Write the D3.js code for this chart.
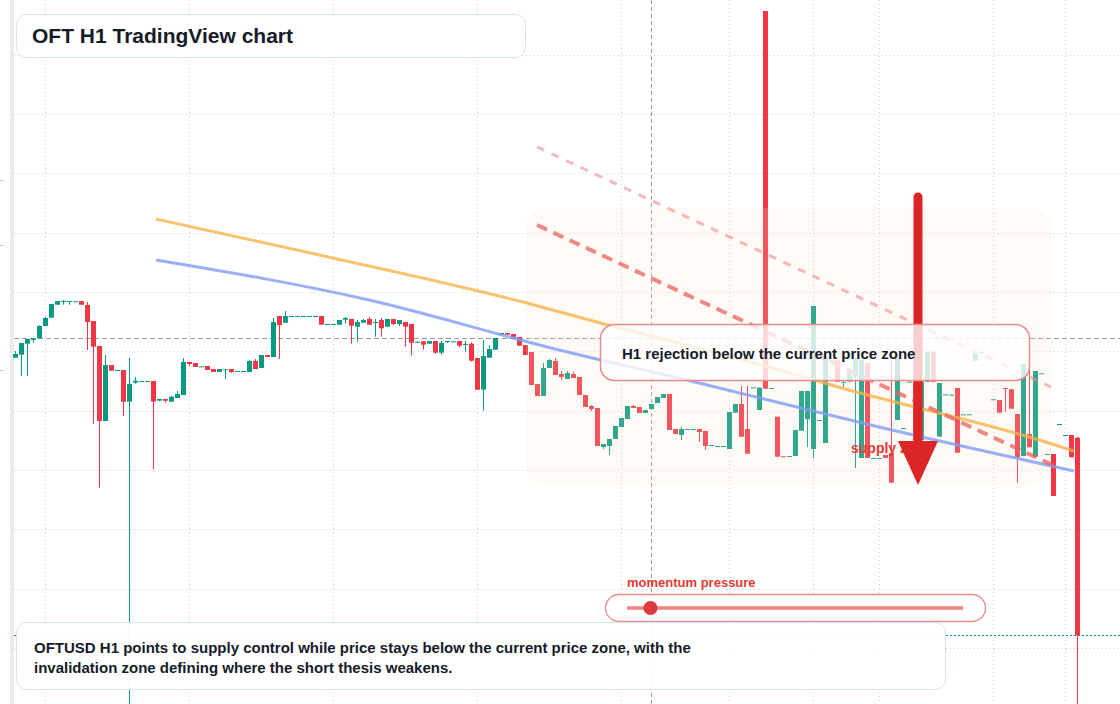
<html>
<head>
<script src="https://d3js.org/d3.v7.min.js"></script>
<style>
  body { margin: 0; background: #fff; }
  text { font-family: "Liberation Sans", Arial, sans-serif; }
</style>
</head>
<body>
<script>
// OFTUSD H1 candles: [open, high, low, close]
var ohlc = [
  [0.006423,0.00649,0.006423,0.00646],[0.006453,0.00657,0.00624,0.00657],[0.006563,0.00661,0.00624,0.00661],
  [0.0066,0.006617,0.006573,0.006617],[0.006617,0.006747,0.006617,0.00674],[0.00674,0.00683,0.00674,0.00682],
  [0.006823,0.00696,0.006823,0.00696],[0.006953,0.00699,0.006953,0.00699],[0.00698,0.007,0.006953,0.00699],
  [0.00698,0.00699,0.006953,0.00699],[0.006985,0.006987,0.006985,0.006987],[0.00699,0.00699,0.006953,0.006953],
  [0.00695,0.00698,0.0065,0.00678],[0.00679,0.00679,0.00576,0.006533],[0.00654,0.00654,0.005123,0.00579],
  [0.00579,0.00645,0.00579,0.00635],[0.00635,0.00635,0.006293,0.006293],[0.006295,0.0063,0.006295,0.0063],
  [0.0063,0.0063,0.00584,0.005983],[0.005983,0.006423,0.0028,0.00616],[0.006173,0.00623,0.006163,0.006193],
  [0.006187,0.00619,0.006187,0.00619],[0.006187,0.00619,0.006187,0.00619],[0.00619,0.00619,0.00531,0.005983],
  [0.005993,0.00601,0.005993,0.00601],[0.00601,0.00601,0.005973,0.005993],[0.005983,0.006043,0.005983,0.006033],
  [0.00602,0.00609,0.00602,0.00606],[0.00605,0.00642,0.00605,0.00638],[0.00638,0.00638,0.00634,0.00636],
  [0.00637,0.00637,0.00633,0.00633],[0.006333,0.006337,0.006333,0.006337],[0.00634,0.00634,0.0063,0.0063],
  [0.00631,0.00631,0.00628,0.00628],[0.00628,0.00631,0.00628,0.00631],[0.006303,0.006307,0.00621,0.006307],
  [0.00631,0.00631,0.00627,0.00628],[0.006287,0.00629,0.006287,0.00629],[0.006287,0.00629,0.006287,0.00629],
  [0.00628,0.0064,0.00628,0.00639],[0.00639,0.00641,0.00631,0.00631],[0.00632,0.00645,0.00632,0.00645],
  [0.00645,0.00645,0.00643,0.00643],[0.00643,0.00682,0.00643,0.00678],[0.00684,0.00684,0.00641,0.00675],
  [0.006773,0.00689,0.006773,0.00684],[0.006837,0.00684,0.006837,0.00684],[0.006837,0.00684,0.006837,0.00684],
  [0.006837,0.00684,0.006837,0.00684],[0.006837,0.00684,0.006837,0.00684],[0.006837,0.00684,0.006837,0.00684],
  [0.00684,0.00684,0.006753,0.006753],[0.006757,0.00676,0.006757,0.00676],[0.006757,0.00676,0.006757,0.00676],
  [0.006753,0.0068,0.006753,0.0068],[0.006803,0.00683,0.006763,0.00682],[0.00681,0.00681,0.006563,0.006743],
  [0.006733,0.0068,0.006583,0.00678],[0.006773,0.00681,0.006773,0.0068],[0.00681,0.00683,0.006753,0.006753],
  [0.006777,0.00681,0.006633,0.00678],[0.0068,0.00682,0.006633,0.006717],[0.006733,0.00681,0.006733,0.00681],
  [0.00681,0.00681,0.00675,0.00676],[0.00676,0.0068,0.00674,0.0068],[0.00678,0.00678,0.006533,0.006733],
  [0.00676,0.00676,0.006443,0.006573],[0.006573,0.006583,0.006573,0.006583],[0.006587,0.006587,0.006503,0.006553],
  [0.006563,0.00659,0.006563,0.00659],[0.00659,0.00659,0.006463,0.006473],[0.006473,0.00659,0.006453,0.00657],
  [0.00658,0.00659,0.00657,0.00659],[0.006585,0.006587,0.006585,0.006587],[0.00659,0.00659,0.006527,0.006543],
  [0.006557,0.00659,0.006483,0.00656],[0.006563,0.006577,0.006383,0.006393],[0.00642,0.00642,0.006103,0.006103],
  [0.006103,0.0066,0.005893,0.00644],[0.006423,0.00655,0.006423,0.00651],[0.006503,0.00662,0.006503,0.00662],
  [0.006653,0.00667,0.006653,0.00667],[0.00667,0.00667,0.006653,0.006653],[0.00666,0.00666,0.006623,0.006623],
  [0.00663,0.00663,0.006543,0.006543],[0.00655,0.00655,0.00645,0.00645],[0.00648,0.00648,0.00615,0.00615],
  [0.00616,0.00616,0.00604,0.00604],[0.00604,0.00637,0.00604,0.00632],[0.00632,0.00641,0.00632,0.0064],
  [0.00639,0.00642,0.00625,0.00625],[0.00626,0.00629,0.0062,0.00623],[0.00621,0.00629,0.00621,0.00627],
  [0.00626,0.00628,0.00622,0.00622],[0.00623,0.00623,0.00605,0.00605],[0.00605,0.00605,0.00593,0.00593],
  [0.00594,0.00595,0.00589,0.00591],[0.00592,0.00592,0.00554,0.00554],[0.00553,0.00556,0.00551,0.00556],
  [0.00554,0.00561,0.00545,0.00561],[0.00561,0.00574,0.00561,0.00574],[0.00573,0.00582,0.00573,0.00582],
  [0.00581,0.00594,0.00581,0.00594],[0.00594,0.00595,0.00592,0.00592],[0.00593,0.00593,0.00587,0.00587],
  [0.00587,0.0059,0.00587,0.0059],[0.00591,0.00596,0.00591,0.00596],[0.00597,0.00603,0.00597,0.00603],
  [0.00602,0.00606,0.00602,0.00606],[0.00606,0.00606,0.0057,0.0057],[0.00571,0.00571,0.00566,0.00566],
  [0.00565,0.00573,0.0056,0.00571],[0.005707,0.00571,0.005707,0.00571],[0.005707,0.00571,0.005707,0.00571],
  [0.00571,0.00571,0.00558,0.00568],[0.00569,0.00569,0.0055,0.00554],[0.005547,0.00555,0.005547,0.00555],
  [0.005537,0.00554,0.005537,0.00554],[0.005537,0.00554,0.005537,0.00554],[0.00551,0.00588,0.00551,0.00588],
  [0.005873,0.00596,0.005873,0.00596],[0.00596,0.00614,0.005633,0.005633],[0.00571,0.00614,0.005463,0.005463],
  [0.006123,0.006127,0.006123,0.006127],[0.0059,0.006123,0.0059,0.006123],[0.00989,0.00989,0.006113,0.006113],
  [0.006117,0.00612,0.006117,0.00612],[0.005833,0.005833,0.005433,0.005433],[0.005437,0.005437,0.005433,0.005433],
  [0.005437,0.00544,0.005437,0.00544],[0.00544,0.0057,0.00544,0.0057],[0.005693,0.00609,0.005693,0.00609],
  [0.005807,0.00609,0.00553,0.00609],[0.00551,0.00694,0.00542,0.00694],[0.005797,0.0058,0.005797,0.0058],
  [0.00557,0.00642,0.00557,0.00642],[0.006397,0.0064,0.006397,0.0064],[0.0064,0.0064,0.006183,0.006183],
  [0.00618,0.006183,0.00613,0.006183],[0.006183,0.0063,0.006183,0.0063],[0.006233,0.00642,0.00532,0.00642],
  [0.00542,0.0064,0.00542,0.0064],[0.00637,0.00637,0.00542,0.00542],[0.005417,0.00542,0.005417,0.00542],
  [0.005417,0.00542,0.005417,0.00542],[0.00545,0.00545,0.00542,0.00542],[0.00547,0.0064,0.005173,0.005173],
  [0.0058,0.00642,0.0058,0.00642],[0.005717,0.00572,0.005717,0.00572],[0.00618,0.006183,0.00618,0.006183],
  [0.00618,0.00618,0.0056,0.0056],[0.0056,0.006183,0.0056,0.006183],[0.006183,0.006483,0.006183,0.006483],
  [0.006483,0.006483,0.006183,0.006183],[0.005633,0.00617,0.005633,0.00617],[0.006055,0.006057,0.006055,0.006057],
  [0.00605,0.006053,0.00605,0.006053],[0.00612,0.00612,0.005473,0.005473],[0.005855,0.005857,0.005855,0.005857],
  [0.005855,0.005857,0.005855,0.005857],[0.006393,0.00647,0.006393,0.00647],[0.006475,0.006477,0.006475,0.006477],
  [0.006438,0.00644,0.006438,0.00644],[0.006005,0.006007,0.006005,0.006007],[0.006,0.006,0.005873,0.005873],
  [0.00612,0.00612,0.00588,0.00611],[0.006107,0.006107,0.005913,0.005913],[0.00586,0.00586,0.005173,0.005427],
  [0.00544,0.00636,0.00544,0.00636],[0.00566,0.006333,0.005527,0.005527],[0.005433,0.00629,0.005433,0.00629],
  [0.006265,0.006267,0.006265,0.006267],[0.005458,0.00546,0.005458,0.00546],[0.00546,0.00546,0.00504,0.00504],
  [0.005758,0.00576,0.005758,0.00576],[0.005648,0.00565,0.005648,0.00565],[0.00565,0.00565,0.005427,0.005427],
  [0.005623,0.005633,0.0028,0.003647]
];

// moving averages, read at a few bars: [bar, price]
var maFast = [[23.5,0.00781],[50,0.00746],[84,0.00699],[97,0.00678],[125,0.00634],[139,0.0061],[169,0.00563],[176.5,0.00549]];
var maSlow = [[23.5,0.0074],[59,0.007],[90,0.00651],[114,0.00617],[144,0.00573],[176.5,0.00529]];

// drawn trendlines [bar, price]
var trendOuter = [[87,0.00853],[172.67,0.00613]];
var trendInner = [[87,0.00775],[174,0.00532]];

var priceGrid = [0.009452,0.008859,0.008266,0.007673,0.00708,0.006487,0.005894,0.005301,0.004708,0.004115,0.003522];
var timeGrid = [5,29,53,77,101,119,133,144,163,175];
var axisMarks = [0.0082,0.00755,0.0063];

var supplyZone = {from: 85.17, to: 172.67, top: 0.00792, bottom: 0.00515};
var crosshair = {bar: 106, price: 0.00662};
var arrow = {bar: 150.5, from: 0.00803, head: 0.00559, tip: 0.00515};
var momentum = 0.07;

var titleText = "OFT H1 TradingView chart";
var calloutText = "H1 rejection below the current price zone";
var zoneLabel = "supply zone";
var momentumLabel = "momentum pressure";
var noteLines = ["OFTUSD H1 points to supply control while price stays below the current price zone, with the",
                 "invalidation zone defining where the short thesis weakens."];

var width = 1120, height = 704;
var up = "#089981", down = "#f23645";

var svg = d3.select("body").append("svg")
    .attr("width", width)
    .attr("height", height);

var x = d3.scaleLinear().domain([0, 177]).range([15, 1077]);
var y = d3.scaleLinear().domain([0.00296, 0.01]).range([height, 0]);

svg.append("rect").attr("width", width).attr("height", height).attr("fill", "#fff");

// left edge strip and axis marks
svg.append("rect").attr("x", 10).attr("y", 0).attr("width", 4).attr("height", height).attr("fill", "#ebebeb");
svg.selectAll(".amark").data(axisMarks).join("line")
    .attr("x1", 0).attr("x2", 4)
    .attr("y1", function(d){ return Math.round(y(d)) + 0.5; })
    .attr("y2", function(d){ return Math.round(y(d)) + 0.5; })
    .attr("stroke", "#c8c8c8");

// grid
var grid = svg.append("g").attr("stroke", "#cfcfcf").attr("stroke-dasharray", "1,3");
grid.selectAll(".h").data(priceGrid).join("line")
    .attr("x1", 14).attr("x2", width)
    .attr("y1", function(d){ return Math.round(y(d)) + 0.5; })
    .attr("y2", function(d){ return Math.round(y(d)) + 0.5; });
grid.selectAll(".v").data(timeGrid).join("line")
    .attr("x1", function(d){ return Math.round(x(d)) + 0.5; })
    .attr("x2", function(d){ return Math.round(x(d)) + 0.5; })
    .attr("y1", 0).attr("y2", height);

// crosshair
svg.append("line")
    .attr("x1", 14).attr("x2", width)
    .attr("y1", Math.round(y(crosshair.price)) + 0.5).attr("y2", Math.round(y(crosshair.price)) + 0.5)
    .attr("stroke", "#9a9a9a").attr("stroke-dasharray", "5,3");
svg.append("line")
    .attr("x1", Math.round(x(crosshair.bar)) + 0.5).attr("x2", Math.round(x(crosshair.bar)) + 0.5)
    .attr("y1", 0).attr("y2", height)
    .attr("stroke", "#9a9a9a").attr("stroke-dasharray", "4,3");

// candles
var candles = svg.append("g");
candles.selectAll(".wick").data(ohlc).join("line")
    .attr("x1", function(d, i){ return Math.round(x(i)) + 0.5; })
    .attr("x2", function(d, i){ return Math.round(x(i)) + 0.5; })
    .attr("y1", function(d){ return y(d[1]); })
    .attr("y2", function(d){ return y(d[2]); })
    .attr("stroke", function(d){ return d[3] >= d[0] ? up : down; });
candles.selectAll(".body").data(ohlc).join("rect")
    .attr("x", function(d, i){ return Math.round(x(i)) - 2; })
    .attr("width", 5)
    .attr("y", function(d){ return Math.min(y(d[0]), y(d[3])); })
    .attr("height", function(d){ return Math.max(1, Math.abs(y(d[0]) - y(d[3]))); })
    .attr("fill", function(d){ return d[3] >= d[0] ? up : down; });

// last price line
var last = ohlc[ohlc.length - 1][3];
svg.append("line")
    .attr("x1", 14).attr("x2", width)
    .attr("y1", Math.round(y(last)) + 0.5).attr("y2", Math.round(y(last)) + 0.5)
    .attr("stroke", up).attr("stroke-dasharray", "2,2");

// supply zone
svg.append("rect")
    .attr("x", x(supplyZone.from)).attr("y", y(supplyZone.top))
    .attr("width", x(supplyZone.to) - x(supplyZone.from))
    .attr("height", y(supplyZone.bottom) - y(supplyZone.top))
    .attr("rx", 18)
    .attr("fill", "rgba(250,225,205,0.18)");

// moving averages
var line = d3.line().x(function(d){ return x(d[0]); }).y(function(d){ return y(d[1]); }).curve(d3.curveMonotoneX);
svg.append("path").attr("d", line(maFast)).attr("fill", "none")
    .attr("stroke", "#f7b34a").attr("stroke-opacity", 0.8).attr("stroke-width", 3);
svg.append("path").attr("d", line(maSlow)).attr("fill", "none")
    .attr("stroke", "#7f9cf5").attr("stroke-opacity", 0.8).attr("stroke-width", 3);

// trendlines
var straight = d3.line().x(function(d){ return x(d[0]); }).y(function(d){ return y(d[1]); });
svg.append("path").attr("d", straight(trendOuter))
    .attr("stroke", "#f08a8a").attr("stroke-opacity", 0.6).attr("stroke-width", 3)
    .attr("stroke-dasharray", "8,8").attr("fill", "none");
svg.append("path").attr("d", straight(trendInner))
    .attr("stroke", "#e86060").attr("stroke-opacity", 0.75).attr("stroke-width", 4)
    .attr("stroke-dasharray", "11,7").attr("fill", "none");

// supply label + arrow
svg.append("text").attr("x", 851).attr("y", 453)
    .attr("fill", "#e53935").attr("font-size", "14px").attr("font-weight", "bold")
    .text(zoneLabel);
svg.append("line")
    .attr("x1", x(arrow.bar)).attr("x2", x(arrow.bar))
    .attr("y1", y(arrow.from)).attr("y2", y(arrow.head) + 2)
    .attr("stroke", "#dc2626").attr("stroke-width", 9).attr("stroke-linecap", "round");
svg.append("path")
    .attr("d", "M" + (x(arrow.bar) - 20) + "," + y(arrow.head) + "L" + (x(arrow.bar) + 20) + "," + y(arrow.head) +
               "L" + x(arrow.bar) + "," + y(arrow.tip) + "Z")
    .attr("fill", "#dc2626");

// rejection callout
svg.append("rect").attr("x", 600.5).attr("y", 324.5).attr("width", 429).attr("height", 56).attr("rx", 14)
    .attr("fill", "rgba(255,255,255,0.78)").attr("stroke", "#ee8a8a").attr("stroke-width", 1.5);
svg.append("text").attr("x", 622).attr("y", 359)
    .attr("fill", "#151b28").attr("font-size", "15px").attr("font-weight", "bold")
    .text(calloutText);

// momentum gauge
svg.append("text").attr("x", 627).attr("y", 587)
    .attr("fill", "#e53935").attr("font-size", "13px").attr("font-weight", "bold")
    .text(momentumLabel);
svg.append("rect").attr("x", 605.5).attr("y", 594.5).attr("width", 380).attr("height", 27).attr("rx", 13.5)
    .attr("fill", "rgba(255,255,255,0.9)").attr("stroke", "#ee8a8a").attr("stroke-width", 1.3);
var gauge = d3.scaleLinear().domain([0, 1]).range([627, 963]);
svg.append("line").attr("x1", gauge(0)).attr("x2", gauge(1)).attr("y1", 608).attr("y2", 608)
    .attr("stroke", "#ef8585").attr("stroke-width", 3.5);
svg.append("circle").attr("cx", gauge(momentum)).attr("cy", 608).attr("r", 7).attr("fill", "#e0393e");

// title box
svg.append("rect").attr("x", 16.5).attr("y", 14.5).attr("width", 509).attr("height", 43).attr("rx", 10)
    .attr("fill", "rgba(255,255,255,0.95)").attr("stroke", "#d5e3f7");
svg.append("text").attr("x", 32).attr("y", 43)
    .attr("fill", "#151b28").attr("font-size", "21px").attr("font-weight", "bold")
    .text(titleText);

// note box
svg.append("rect").attr("x", 16.5).attr("y", 622.5).attr("width", 929).attr("height", 67).attr("rx", 10)
    .attr("fill", "rgba(255,255,255,0.92)").attr("stroke", "#d5e3f7");
svg.selectAll(".note").data(noteLines).join("text")
    .attr("x", 34).attr("y", function(d, i){ return 653 + i * 20; })
    .attr("fill", "#151b28").attr("font-size", "15px").attr("font-weight", "bold")
    .text(function(d){ return d; });
</script>
</body>
</html>
